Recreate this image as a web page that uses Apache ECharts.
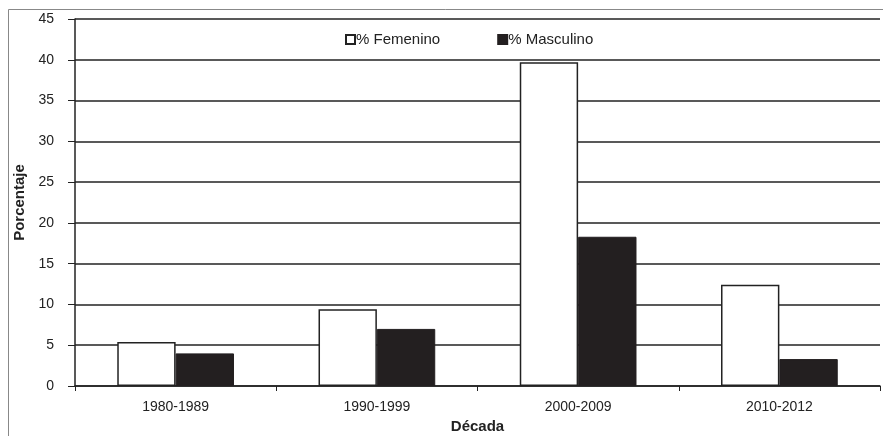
<!DOCTYPE html>
<html>
<head>
<meta charset="utf-8">
<script src="https://cdn.jsdelivr.net/npm/echarts@6/dist/echarts.min.js"></script>
<style>
  html, body { margin: 0; padding: 0; background: #fff; }
  #chart { width: 883px; height: 436px; }
</style>
</head>
<body>
<div id="chart"></div>
<script>
const decadas = ['1980-1989', '1990-1999', '2000-2009', '2010-2012'];
const femenino = [5.4, 9.4, 39.7, 12.4];
const masculino = [4.0, 7.0, 18.3, 3.3];
const yTicks = [0, 5, 10, 15, 20, 25, 30, 35, 40, 45];

const chart = echarts.init(document.getElementById('chart'));
const font = 'Liberation Sans, Arial, sans-serif';

const option = {
  backgroundColor: '#fff',
  animation: false,
  textStyle: { fontFamily: font },
  grid: { left: 75, right: 3, top: 19, bottom: 50, outerBoundsMode: 'none', containLabel: false },
  // marco exterior
  graphic: [
    { type: 'line', shape: { x1: 8.5, y1: 9.5, x2: 8.5, y2: 436 }, style: { stroke: '#888', lineWidth: 1 } },
    { type: 'line', shape: { x1: 8.5, y1: 9.5, x2: 883, y2: 9.5 }, style: { stroke: '#888', lineWidth: 1 } }
  ],
  legend: {
    top: 27,
    left: 340,
    itemGap: 57,
    itemWidth: 9,
    itemHeight: 9,
    icon: 'rect',
    textStyle: { fontSize: 15, color: '#222', fontFamily: font, padding: [0, 0, 0, -4] },
    data: ['% Femenino', '% Masculino']
  },
  xAxis: {
    type: 'category',
    data: decadas,
    name: 'Década',
    nameLocation: 'middle',
    nameGap: 33,
    nameTextStyle: { fontSize: 15, fontWeight: 'bold', color: '#222' },
    axisLine: { lineStyle: { color: '#222', width: 1.5 } },
    axisTick: { show: true, length: 5, lineStyle: { color: '#222' } },
    axisLabel: { fontSize: 14, color: '#222', margin: 14 },
    splitLine: { show: false }
  },
  yAxis: {
    type: 'value',
    min: yTicks[0],
    max: yTicks[yTicks.length - 1],
    interval: 5,
    name: 'Porcentaje',
    nameLocation: 'middle',
    nameGap: 43,
    nameRotate: 90,
    nameTextStyle: { fontSize: 15, fontWeight: 'bold', color: '#222' },
    axisLine: { show: true, lineStyle: { color: '#222', width: 1.5 } },
    axisTick: { show: true, length: 7, lineStyle: { color: '#222' } },
    axisLabel: { fontSize: 14, color: '#222', margin: 21 },
    splitLine: { show: true, lineStyle: { color: '#222', width: 1.5 } }
  },
  series: [
    {
      name: '% Femenino',
      type: 'bar',
      data: femenino,
      barGap: '0%',
      barCategoryGap: '42%',
      itemStyle: { color: '#fff', borderColor: '#222', borderWidth: 1.5 }
    },
    {
      name: '% Masculino',
      type: 'bar',
      data: masculino,
      itemStyle: { color: '#231f20', borderColor: '#231f20', borderWidth: 1 }
    }
  ]
};

chart.setOption(option);
</script>
</body>
</html>
